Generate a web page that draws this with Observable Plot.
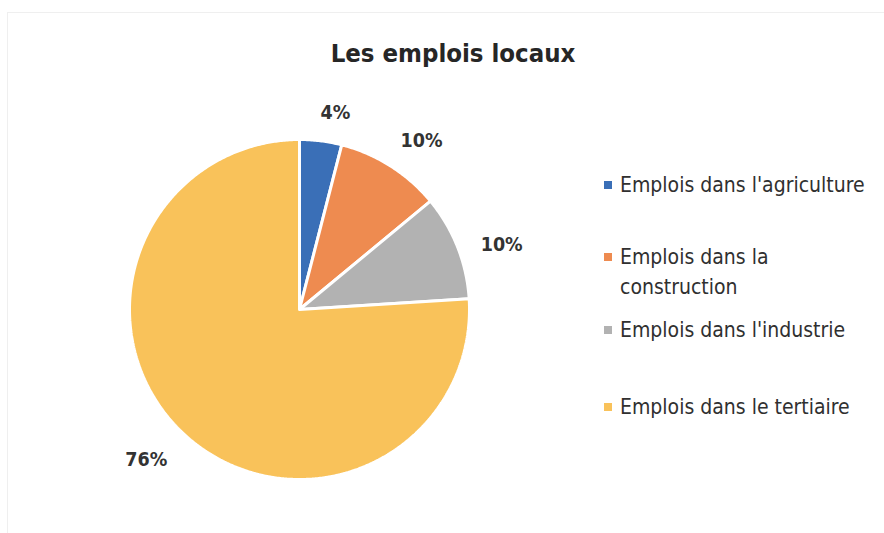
<!DOCTYPE html>
<html><head><meta charset="utf-8">
<script src="https://cdn.jsdelivr.net/npm/d3@7"></script>
<script src="https://cdn.jsdelivr.net/npm/@observablehq/plot@0.6"></script>
<style>
body{margin:0;background:#fff;}
#wrap{position:relative;width:884px;height:533px;overflow:hidden;background:#fff;}
#frame{position:absolute;left:7px;top:12px;right:-2px;bottom:-2px;border-top:1px solid #efefef;border-left:1px solid #efefef;}
#title{position:absolute;left:0;width:906px;top:38px;text-align:center;font-family:"DejaVu Sans Condensed",sans-serif;font-weight:bold;font-size:25.5px;color:#262626;}
#plot{position:absolute;left:0;top:0;}
.leg{position:absolute;left:620px;font-family:"DejaVu Sans Condensed",sans-serif;font-size:21px;line-height:30px;color:#303030;white-space:nowrap;}
.sw{position:absolute;left:-16px;top:11px;width:8px;height:8px;}
</style></head>
<body><div id="wrap"><div id="frame"></div><div id="plot"></div><div id="title">Les emplois locaux</div></div>
<script>
const categories = ["Emplois dans l'agriculture","Emplois dans la construction","Emplois dans l'industrie","Emplois dans le tertiaire"];
const legendLabels = ["Emplois dans l'agriculture","Emplois dans la<br>construction","Emplois dans l'industrie","Emplois dans le tertiaire"];
const shares = [4, 10, 10, 76];
const pctLabels = ["4%","10%","10%","76%"];
const colors = ["#3a6fb7","#ee8b50","#b2b2b2","#f9c25a"];

const R = 170, cx = 299, cy = 309, W = 884, H = 533;
const pie = d3.pie().sort(null).value(d => d)(shares);
const polys = [];
const labels = [];
pie.forEach((s, i) => {
  const a0 = s.startAngle, a1 = s.endAngle;
  const n = Math.max(2, Math.ceil((a1 - a0) / (Math.PI/360)));
  polys.push({cat: categories[i], x: 0, y: 0});
  for (let k = 0; k <= n; k++) {
    const a = a0 + (a1 - a0) * k / n;
    polys.push({cat: categories[i], x: Math.sin(a), y: Math.cos(a)});
  }
  polys.push({cat: categories[i], x: 0, y: 0});
  // outside-end label: box pushed outward so its nearest edge clears the arc
  const m = (a0 + a1) / 2 + 3 * Math.PI / 180;
  const hw = pctLabels[i].length * 6.5, hh = 9;
  const proj = Math.abs(Math.sin(m)) * hw + Math.abs(Math.cos(m)) * hh;
  const r = 1 + (22 + proj) / R;
  labels.push({text: pctLabels[i], x: r * Math.sin(m), y: r * Math.cos(m)});
});

const chart = Plot.plot({
  width: W, height: H, margin: 0,
  x: {domain: [-cx / R, (W - cx) / R], axis: null},
  y: {domain: [-(H - cy) / R, cy / R], axis: null},
  color: {domain: categories, range: colors},
  marks: [
    Plot.line(polys, {x: "x", y: "y", z: "cat", fill: "cat", stroke: "white", strokeWidth: 3, strokeLinejoin: "miter"}),
    Plot.text(labels, {x: "x", y: "y", text: "text", dy: 3, fontSize: 19.5, fontWeight: "bold", fill: "#333", fontFamily: "DejaVu Sans Condensed, sans-serif"})
  ]
});
document.getElementById("plot").appendChild(chart);

const tops = [170, 242, 315, 392];
const wrap = document.getElementById("wrap");
categories.forEach((c, i) => {
  const d = document.createElement("div");
  d.className = "leg";
  d.style.top = tops[i] + "px";
  d.innerHTML = `<span class="sw" style="background:${colors[i]}"></span>${legendLabels[i]}`;
  wrap.appendChild(d);
});
</script></body></html>
